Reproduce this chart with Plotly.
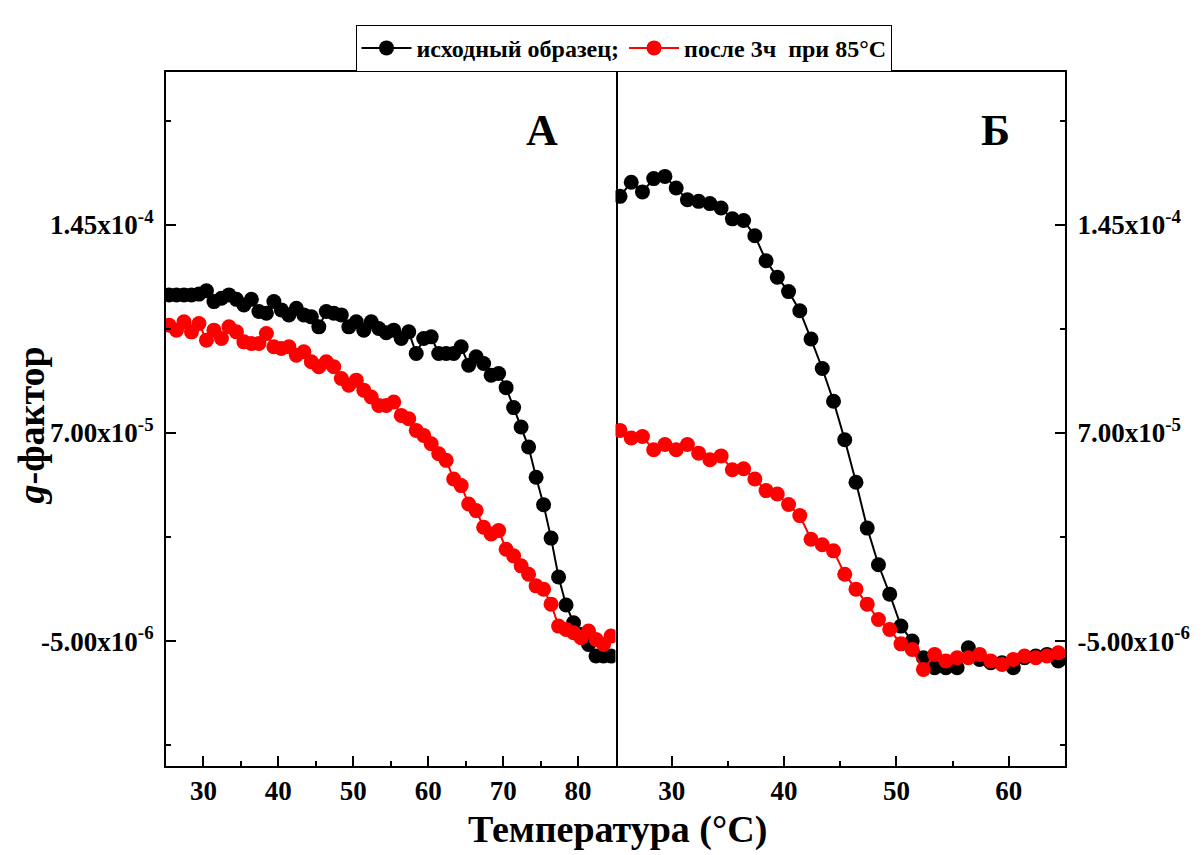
import plotly.graph_objects as go

# ---------------- data ----------------
temp_A = [25.4, 26.4, 27.4, 28.4, 29.4, 30.4, 31.4, 32.4, 33.4, 34.4,
          35.4, 36.4, 37.4, 38.4, 39.4, 40.4, 41.4, 42.4, 43.4, 44.4,
          45.4, 46.4, 47.4, 48.4, 49.4, 50.4, 51.4, 52.4, 53.4, 54.4,
          55.4, 56.4, 57.4, 58.4, 59.4, 60.4, 61.4, 62.4, 63.4, 64.4,
          65.4, 66.4, 67.4, 68.4, 69.4, 70.4, 71.4, 72.4, 73.4, 74.4,
          75.4, 76.4, 77.4, 78.4, 79.4, 80.4, 81.4, 82.4, 83.4, 84.4]

g_initial_A = [11.97e-5, 11.97e-5, 11.97e-5, 11.97e-5, 12.00e-5, 12.12e-5, 11.73e-5, 11.85e-5, 11.97e-5, 11.81e-5,
               11.61e-5, 11.81e-5, 11.37e-5, 11.31e-5, 11.73e-5, 11.43e-5, 11.25e-5, 11.49e-5, 11.25e-5, 11.18e-5,
               10.82e-5, 11.37e-5, 11.31e-5, 11.25e-5, 10.82e-5, 11.00e-5, 10.70e-5, 11.00e-5, 10.76e-5, 10.61e-5,
               10.70e-5, 10.40e-5, 10.64e-5, 9.86e-5, 10.40e-5, 10.46e-5, 9.86e-5, 9.86e-5, 9.86e-5, 10.10e-5,
               9.44e-5, 9.74e-5, 9.50e-5, 9.08e-5, 9.14e-5, 8.63e-5, 7.91e-5, 7.21e-5, 6.49e-5, 5.40e-5,
               4.41e-5, 3.21e-5, 1.81e-5, 0.80e-5, 0.16e-5, -0.26e-5, -0.62e-5, -1.04e-5, -1.04e-5, -1.04e-5]

g_heated_A = [10.88e-5, 10.70e-5, 11.00e-5, 10.64e-5, 10.94e-5, 10.34e-5, 10.70e-5, 10.40e-5, 10.82e-5, 10.64e-5,
              10.28e-5, 10.22e-5, 10.22e-5, 10.58e-5, 10.10e-5, 10.04e-5, 10.10e-5, 9.80e-5, 9.92e-5, 9.56e-5,
              9.38e-5, 9.56e-5, 9.38e-5, 8.96e-5, 8.72e-5, 8.90e-5, 8.54e-5, 8.29e-5, 7.99e-5, 7.99e-5,
              8.11e-5, 7.63e-5, 7.51e-5, 7.09e-5, 6.91e-5, 6.61e-5, 6.25e-5, 6.01e-5, 5.34e-5, 5.10e-5,
              4.44e-5, 4.20e-5, 3.60e-5, 3.36e-5, 3.48e-5, 2.81e-5, 2.57e-5, 2.21e-5, 1.91e-5, 1.49e-5,
              1.37e-5, 0.83e-5, 0.04e-5, -0.08e-5, -0.20e-5, -0.38e-5, -0.14e-5, -0.44e-5, -0.62e-5, -0.32e-5]

temp_B = [25.4, 26.4, 27.4, 28.4, 29.4, 30.4, 31.4, 32.4, 33.4, 34.4,
          35.4, 36.4, 37.4, 38.4, 39.4, 40.4, 41.4, 42.4, 43.4, 44.4,
          45.4, 46.4, 47.4, 48.4, 49.4, 50.4, 51.4, 52.4, 53.4, 54.4,
          55.4, 56.4, 57.4, 58.4, 59.4, 60.4, 61.4, 62.4, 63.4, 64.4]

g_initial_B = [15.52e-5, 16.03e-5, 15.68e-5, 16.16e-5, 16.24e-5, 15.82e-5, 15.40e-5, 15.34e-5, 15.26e-5, 15.10e-5,
               14.71e-5, 14.65e-5, 14.10e-5, 13.20e-5, 12.61e-5, 12.09e-5, 11.40e-5, 10.38e-5, 9.32e-5, 8.14e-5,
               6.75e-5, 5.22e-5, 3.57e-5, 2.25e-5, 1.19e-5, 0.04e-5, -0.50e-5, -1.10e-5, -1.46e-5, -1.46e-5,
               -1.46e-5, -0.74e-5, -1.16e-5, -1.28e-5, -1.28e-5, -1.46e-5, -1.10e-5, -1.04e-5, -0.98e-5, -1.22e-5]

g_heated_B = [7.09e-5, 6.82e-5, 6.87e-5, 6.39e-5, 6.58e-5, 6.39e-5, 6.58e-5, 6.27e-5, 6.03e-5, 6.17e-5,
              5.67e-5, 5.71e-5, 5.34e-5, 4.92e-5, 4.80e-5, 4.42e-5, 4.02e-5, 3.17e-5, 2.97e-5, 2.75e-5,
              1.91e-5, 1.37e-5, 0.83e-5, 0.28e-5, -0.08e-5, -0.60e-5, -0.80e-5, -1.52e-5, -0.98e-5, -1.22e-5,
              -1.10e-5, -1.10e-5, -0.98e-5, -1.22e-5, -1.34e-5, -1.16e-5, -1.04e-5, -1.10e-5, -1.04e-5, -0.92e-5]

series_names = ["исходный образец;", "после 3ч\u00a0 при 85°C"]
x_ticks_A = [30, 40, 50, 60, 70, 80]
x_ticks_B = [30, 40, 50, 60]
y_tickvals = [-5e-6, 7e-5, 1.45e-4]
y_ticktext = ["-5.00x10<sup>-6</sup>", "7.00x10<sup>-5</sup>", "1.45x10<sup>-4</sup>"]

# ---------------- figure ----------------
FONT = "Liberation Serif"
BLACK = "#000000"
RED = "#ff0000"

fig = go.Figure()

def add(x, y, color, name, xa, ya, show):
    fig.add_trace(go.Scatter(
        x=x, y=y, mode="lines+markers", name=name,
        line=dict(color=color, width=2),
        marker=dict(color=color, size=15, line=dict(width=0)),
        xaxis=xa, yaxis=ya, showlegend=show, legendgroup=name,
    ))

add(temp_A, g_initial_A, BLACK, series_names[0], "x", "y", True)
add(temp_A, g_heated_A, RED, series_names[1], "x", "y", True)
add(temp_B, g_initial_B, BLACK, series_names[0], "x2", "y2", False)
add(temp_B, g_heated_B, RED, series_names[1], "x2", "y2", False)

tickfont = dict(family=FONT, size=27, color="black", weight="bold")
common_axis = dict(showline=True, linecolor="black", linewidth=2,
                   showgrid=False, zeroline=False, ticks="inside", ticklen=10,
                   tickwidth=2, tickcolor="black", tickfont=tickfont)

yrange = [-5e-5, 2e-4]
minor_x = dict(ticks="inside", ticklen=5, tickwidth=2, tickcolor="black", tick0=25, dtick=5)
minor_y = dict(ticks="inside", ticklen=5, tickwidth=2, tickcolor="black", tick0=-5e-6, dtick=3.75e-5)

fig.update_layout(
    width=1202, height=855,
    margin=dict(l=166, r=128, t=72, b=89),
    paper_bgcolor="white", plot_bgcolor="white",
    xaxis=dict(domain=[0, 0.5], range=[25, 85], anchor="y", tickvals=x_ticks_A,
               minor=minor_x, mirror=True, **common_axis),
    xaxis2=dict(domain=[0.5, 1], range=[25, 65], anchor="y2", tickvals=x_ticks_B,
                minor=minor_x, mirror=True, **common_axis),
    yaxis=dict(range=yrange, anchor="x", tickvals=y_tickvals, ticktext=y_ticktext,
               ticklabelstandoff=5, minor=minor_y, mirror=True, **common_axis),
    yaxis2=dict(range=yrange, anchor="x2", side="right", tickvals=y_tickvals, ticktext=y_ticktext,
                ticklabelstandoff=5, minor=minor_y, mirror=False, **common_axis),
    legend=dict(orientation="h", x=0.51, xanchor="center", y=1.068, yanchor="top",
                bordercolor="black", borderwidth=1, bgcolor="white",
                font=dict(family=FONT, size=24, color="black", weight="bold"),
                itemwidth=50, tracegroupgap=0),
    showlegend=True,
)

fig.add_annotation(text="А", x=0.418, y=0.916, xref="paper", yref="paper", showarrow=False,
                   xanchor="center", yanchor="middle",
                   font=dict(family=FONT, size=44, color="black", weight="bold"))
fig.add_annotation(text="Б", x=0.9226, y=0.916, xref="paper", yref="paper", showarrow=False,
                   xanchor="center", yanchor="middle",
                   font=dict(family=FONT, size=44, color="black", weight="bold"))
fig.add_annotation(text="Температура (°C)", x=0.502, y=-0.092, xref="paper", yref="paper",
                   showarrow=False, xanchor="center", yanchor="middle",
                   font=dict(family=FONT, size=38, color="black", weight="bold"))
fig.add_annotation(text="<i>g</i>-фактор", x=-0.150, y=0.491, xref="paper", yref="paper",
                   showarrow=False, textangle=-90, xanchor="center", yanchor="middle",
                   font=dict(family=FONT, size=38, color="black", weight="bold"))

fig.write_html("out.html")
